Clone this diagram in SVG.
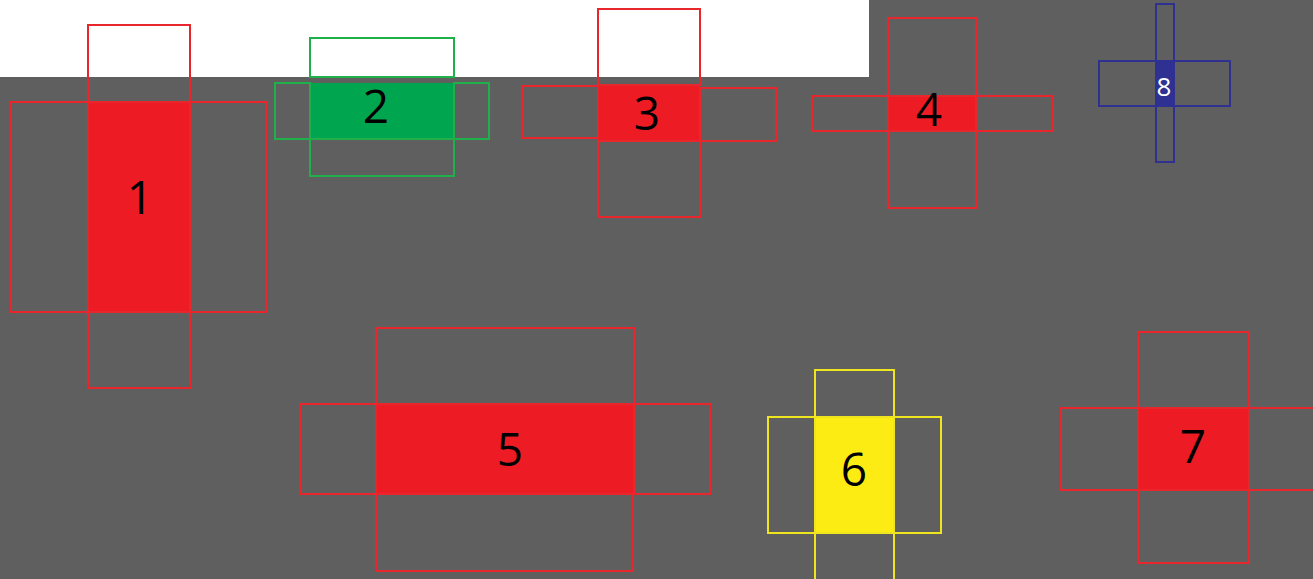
<svg xmlns="http://www.w3.org/2000/svg" width="1313" height="579" viewBox="0 0 1313 579">
<style>
.r{fill:none;stroke:#e8262b;stroke-width:2}
.g{fill:none;stroke:#1faf4b;stroke-width:2}
.y{fill:none;stroke:#efe51e;stroke-width:2}
.b{fill:none;stroke:#2e3192;stroke-width:2}
.fr{fill:#ed1c24}
.fg{fill:#00a64f}
.fy{fill:#fcec14}
.fb{fill:#2e3192}
text{font-family:"Open Sans","Liberation Sans",sans-serif;font-size:46px;fill:#000;text-anchor:middle}
</style>
<rect width="1313" height="579" fill="#5f5f5f"/>
<rect width="869" height="77" fill="#ffffff"/>
<g id="node1">
<rect class="fr" x="88" y="102" width="102" height="210"/>
<rect class="r" x="88" y="25" width="102" height="77"/>
<rect class="r" x="11" y="102" width="77" height="210"/>
<rect class="r" x="190" y="102" width="76" height="210"/>
<rect class="r" x="88" y="312" width="102" height="76"/>
<text x="140" y="214">1</text>
</g>
<g id="node2">
<rect class="fg" x="310" y="83" width="144" height="56"/>
<rect class="g" x="310" y="38" width="144" height="39"/>
<rect class="g" x="275" y="83" width="35" height="56"/>
<rect class="g" x="454" y="83" width="35" height="56"/>
<rect class="g" x="310" y="139" width="144" height="37"/>
<text x="376" y="123">2</text>
</g>
<g id="node3">
<rect class="fr" x="598" y="85" width="102" height="56"/>
<rect class="r" x="598" y="9" width="102" height="76"/>
<rect class="r" x="523" y="86" width="75" height="52"/>
<rect class="r" x="700" y="88" width="76" height="53"/>
<rect class="r" x="598" y="141" width="102" height="76"/>
<text x="647" y="130">3</text>
</g>
<g id="node4">
<rect class="fr" x="888" y="96" width="88" height="35"/>
<rect class="r" x="888" y="18" width="88" height="78"/>
<rect class="r" x="812" y="96" width="76" height="35"/>
<rect class="r" x="976" y="96" width="77" height="35"/>
<rect class="r" x="888" y="131" width="88" height="77"/>
<text x="929" y="126">4</text>
</g>
<g id="node8">
<rect class="fb" x="1156" y="61" width="18" height="45"/>
<rect class="b" x="1156" y="4" width="18" height="57"/>
<rect class="b" x="1099" y="61" width="57" height="45"/>
<rect class="b" x="1174" y="61" width="56" height="45"/>
<rect class="b" x="1156" y="106" width="18" height="56"/>
<text x="1164" y="96" style="font-size:26px;fill:#ffffff">8</text>
</g>
<g id="node5">
<rect class="fr" x="376" y="404" width="258" height="90"/>
<rect class="r" x="376" y="328" width="258" height="76"/>
<rect class="r" x="300" y="404" width="76" height="90"/>
<rect class="r" x="634" y="404" width="76" height="90"/>
<rect class="r" x="376" y="494" width="257" height="77"/>
<text x="510" y="466">5</text>
</g>
<g id="node6">
<rect class="fy" x="815" y="417" width="79" height="116"/>
<rect class="y" x="815" y="370" width="79" height="47"/>
<rect class="y" x="768" y="417" width="47" height="116"/>
<rect class="y" x="894" y="417" width="47" height="116"/>
<rect class="y" x="815" y="533" width="79" height="60"/>
<text x="854" y="486">6</text>
</g>
<g id="node7">
<rect class="fr" x="1138" y="408" width="111" height="82"/>
<rect class="r" x="1138" y="332" width="111" height="76"/>
<rect class="r" x="1061" y="408" width="77" height="82"/>
<rect class="r" x="1249" y="408" width="80" height="82"/>
<rect class="r" x="1138" y="490" width="111" height="73"/>
<text x="1193" y="463">7</text>
</g>
<g id="connectors"/>
</svg>
